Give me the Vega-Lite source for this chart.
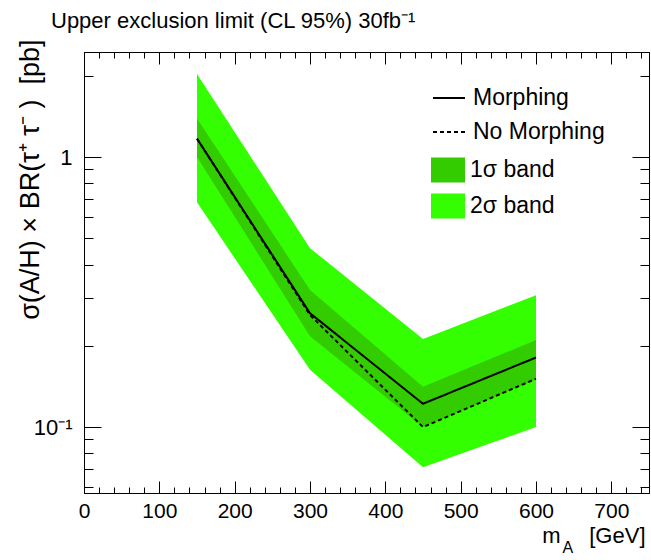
{
  "$schema": "https://vega.github.io/schema/vega-lite/v6.json",
  "width": 565,
  "height": 441,
  "autosize": {"type": "none"},
  "padding": {"left": 84, "top": 52, "right": 2, "bottom": 67},
  "background": "white",
  "config": {
    "font": "Liberation Sans",
    "view": {"stroke": "black", "strokeWidth": 1},
    "axis": {"grid": false, "domainColor": "black", "tickColor": "black", "labelColor": "black", "titleColor": "black", "labelFont": "Liberation Sans", "titleFont": "Liberation Sans", "titleFontWeight": "normal", "labelFlush": false, "labelOverlap": false, "domainWidth": 1, "tickWidth": 1}
  },
  "title": {"text": "Upper exclusion limit (CL 95%) 30fb⁻¹", "anchor": "start", "frame": "group", "dx": -33, "dy": 23, "offset": 12, "baseline": "alphabetic", "fontSize": 22, "fontWeight": "normal", "font": "Liberation Sans", "color": "black"},
  "data": {"values": [
    {"m": 150, "morph": 1.17, "nomorph": 1.17, "s1lo": 1.0, "s1hi": 1.39, "s2lo": 0.68, "s2hi": 2.03},
    {"m": 300, "morph": 0.264, "nomorph": 0.26, "s1lo": 0.217, "s1hi": 0.322, "s2lo": 0.163, "s2hi": 0.46},
    {"m": 450, "morph": 0.122, "nomorph": 0.1, "s1lo": 0.1, "s1hi": 0.141, "s2lo": 0.071, "s2hi": 0.212},
    {"m": 600, "morph": 0.181, "nomorph": 0.151, "s1lo": 0.15, "s1hi": 0.21, "s2lo": 0.1, "s2hi": 0.308}
  ]},
  "layer": [
    {
      "mark": {"type": "area", "clip": true, "opacity": 1},
      "encoding": {
        "x": {"field": "m", "type": "quantitative", "scale": {"domain": [0, 750], "nice": false, "zero": false},
          "axis": {"orient": "bottom", "values": [0,20,40,60,80,100,120,140,160,180,200,220,240,260,280,300,320,340,360,380,400,420,440,460,480,500,520,540,560,580,600,620,640,660,680,700,720,740],
            "labelExpr": "datum.value % 100 === 0 ? datum.label : ''",
            "tickSize": {"condition": {"test": "datum.value % 100 === 0", "value": -12}, "value": -6},
            "labelPadding": 19, "labelFontSize": 21,
            "title": "[GeV]", "titleX": 561, "titleY": 49, "titleAlign": "right", "titleBaseline": "alphabetic", "titleFontSize": 22}},
        "y": {"field": "s2lo", "type": "quantitative", "scale": {"type": "log", "domain": [0.057, 2.45], "nice": false},
          "axis": {"orient": "left", "values": [0.06,0.07,0.08,0.09,0.1,0.2,0.3,0.4,0.5,0.6,0.7,0.8,0.9,1,2],
            "labelExpr": "datum.value == 1 ? '1' : (abs(datum.value - 0.1) < 1e-6 ? '10⁻¹' : '')",
            "tickSize": {"condition": {"test": "datum.value == 1 || abs(datum.value - 0.1) < 1e-6", "value": -17}, "value": -9},
            "labelPadding": 29, "labelFontSize": 22,
            "title": "σ(A/H) × BR(τ⁺\u00a0τ⁻\u00a0) \u00a0[pb]", "titleAngle": -90, "titleX": -46, "titleY": -13, "titleAlign": "right", "titleBaseline": "alphabetic", "titleFontSize": 27}},
        "y2": {"field": "s2hi"},
        "fill": {"datum": "2σ band", "type": "nominal", "scale": {"domain": ["1σ band", "2σ band"], "range": ["#33cc00", "#33ff00"]},
          "legend": {"orient": "none", "legendX": 347, "legendY": 101, "title": null, "symbolType": "M-1,-0.735L1,-0.735L1,0.735L-1,0.735Z", "symbolSize": 1156, "symbolStrokeWidth": 0, "symbolOpacity": 1, "labelFontSize": 23, "labelFont": "Liberation Sans", "labelColor": "black", "labelOffset": 5, "rowPadding": 6, "padding": 0, "offset": 0, "labelLimit": 300}}
      }
    },
    {
      "mark": {"type": "area", "clip": true, "opacity": 1},
      "encoding": {
        "x": {"field": "m", "type": "quantitative",
          "axis": {"orient": "top", "values": [0,20,40,60,80,100,120,140,160,180,200,220,240,260,280,300,320,340,360,380,400,420,440,460,480,500,520,540,560,580,600,620,640,660,680,700,720,740],
            "labels": false,
            "tickSize": {"condition": {"test": "datum.value % 100 === 0", "value": -12}, "value": -6},
            "title": "m", "titleX": 476, "titleY": 490, "titleAlign": "right", "titleBaseline": "alphabetic", "titleFontSize": 22}},
        "y": {"field": "s1lo", "type": "quantitative",
          "axis": {"orient": "right", "values": [0.06,0.07,0.08,0.09,0.1,0.2,0.3,0.4,0.5,0.6,0.7,0.8,0.9,1,2],
            "labels": false,
            "tickSize": {"condition": {"test": "datum.value == 1 || abs(datum.value - 0.1) < 1e-6", "value": -17}, "value": -9},
            "title": null}},
        "y2": {"field": "s1hi"},
        "fill": {"datum": "1σ band", "type": "nominal"}
      }
    },
    {
      "mark": {"type": "line", "clip": true, "color": "black", "strokeWidth": 2},
      "encoding": {
        "x": {"field": "m", "type": "quantitative",
          "axis": {"orient": "bottom", "labels": false, "ticks": false, "domain": false,
            "title": "A", "titleX": 478, "titleY": 59, "titleAlign": "left", "titleBaseline": "alphabetic", "titleFontSize": 16}},
        "y": {"field": "morph", "type": "quantitative", "axis": null},
        "strokeDash": {"datum": "Morphing", "type": "nominal", "scale": {"domain": ["Morphing", "No Morphing"], "range": [[1, 0], [4, 3]]},
          "legend": {"orient": "none", "legendX": 348, "legendY": 29, "title": null, "symbolType": "stroke", "symbolSize": 1024, "symbolStrokeWidth": 2, "symbolStrokeColor": "black", "labelFontSize": 23, "labelFont": "Liberation Sans", "labelColor": "black", "labelOffset": 7, "rowPadding": 5, "padding": 0, "offset": 0, "labelLimit": 300}}
      }
    },
    {
      "mark": {"type": "line", "clip": true, "color": "black", "strokeWidth": 2},
      "encoding": {
        "x": {"field": "m", "type": "quantitative", "axis": null},
        "y": {"field": "nomorph", "type": "quantitative", "axis": null},
        "strokeDash": {"datum": "No Morphing", "type": "nominal"}
      }
    }
  ],
  "resolve": {"axis": {"x": "independent", "y": "independent"}}
}
